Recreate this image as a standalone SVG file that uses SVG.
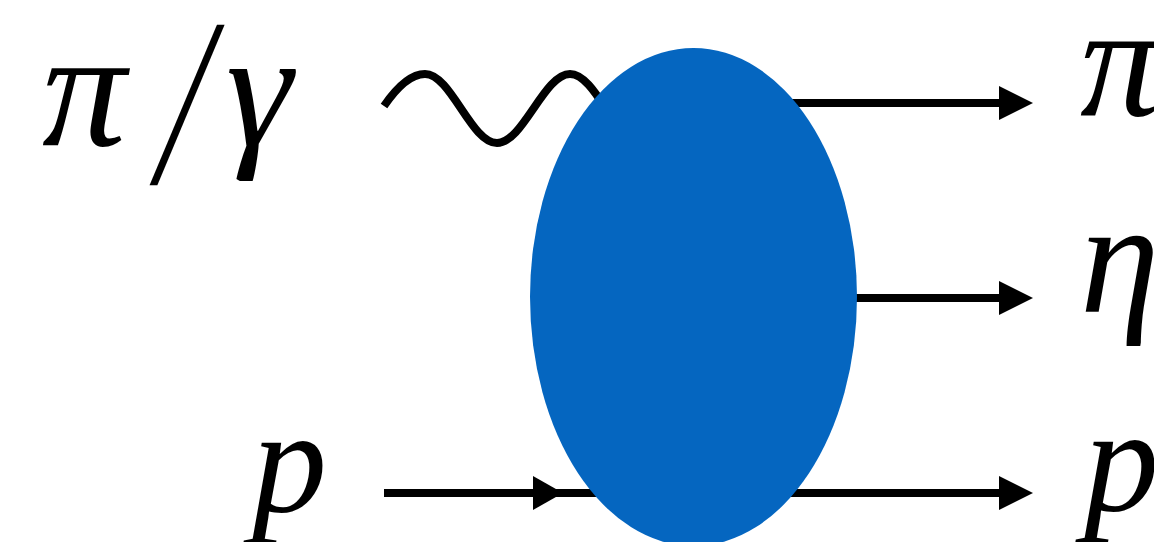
<svg xmlns="http://www.w3.org/2000/svg" width="1154" height="542" viewBox="0 0 1154 542">
<style>
.lbl{font-family:"Liberation Serif","Times New Roman",serif;fill:#000}
.it{font-style:italic}
.s160{font-size:160px}
.s150{font-size:150px}
.s168{font-size:168px}
.ln{stroke:#000;stroke-width:8;fill:none}
.ah{fill:#000}
</style>
<rect width="1154" height="542" fill="#fff"/>
<g id="connectors">
<path class="ln" d="M384,106 C395,90 410,74 425,74 C451,74 471,143 497,143 C523,143 544,74 570,74 C596,74 616,143 642,143"/>
<line class="ln" x1="693" y1="103" x2="1004" y2="103"/>
<polygon class="ah" points="999,86 1033,103 999,120"/>
<line class="ln" x1="693" y1="298" x2="1004" y2="298"/>
<polygon class="ah" points="999,281 1033,298 999,315"/>
<line class="ln" x1="384" y1="493" x2="1004" y2="493"/>
<polygon class="ah" points="533,476 563,493 533,510"/>
<polygon class="ah" points="999,476 1033,493 999,510"/>
</g>
<g id="blob">
<ellipse cx="693.5" cy="297" rx="163.5" ry="249" fill="#0566C0"/>
</g>
<g id="label-in-top">
<text class="lbl it s168" x="42" y="145">π</text>
<text class="lbl s160" transform="translate(150,183) scale(1,1.5) skewX(-16)" x="0" y="0">/</text>
<text class="lbl it s168" x="226" y="145">γ</text>
</g>
<g id="label-in-bottom">
<text class="lbl it s150" x="252" y="512">p</text>
</g>
<g id="label-out-pi">
<text class="lbl it s160" x="1080" y="115">π</text>
</g>
<g id="label-out-eta">
<text class="lbl it s160" x="1080" y="312">η</text>
</g>
<g id="label-out-p">
<text class="lbl it s150" x="1084" y="511">p</text>
</g>
</svg>
